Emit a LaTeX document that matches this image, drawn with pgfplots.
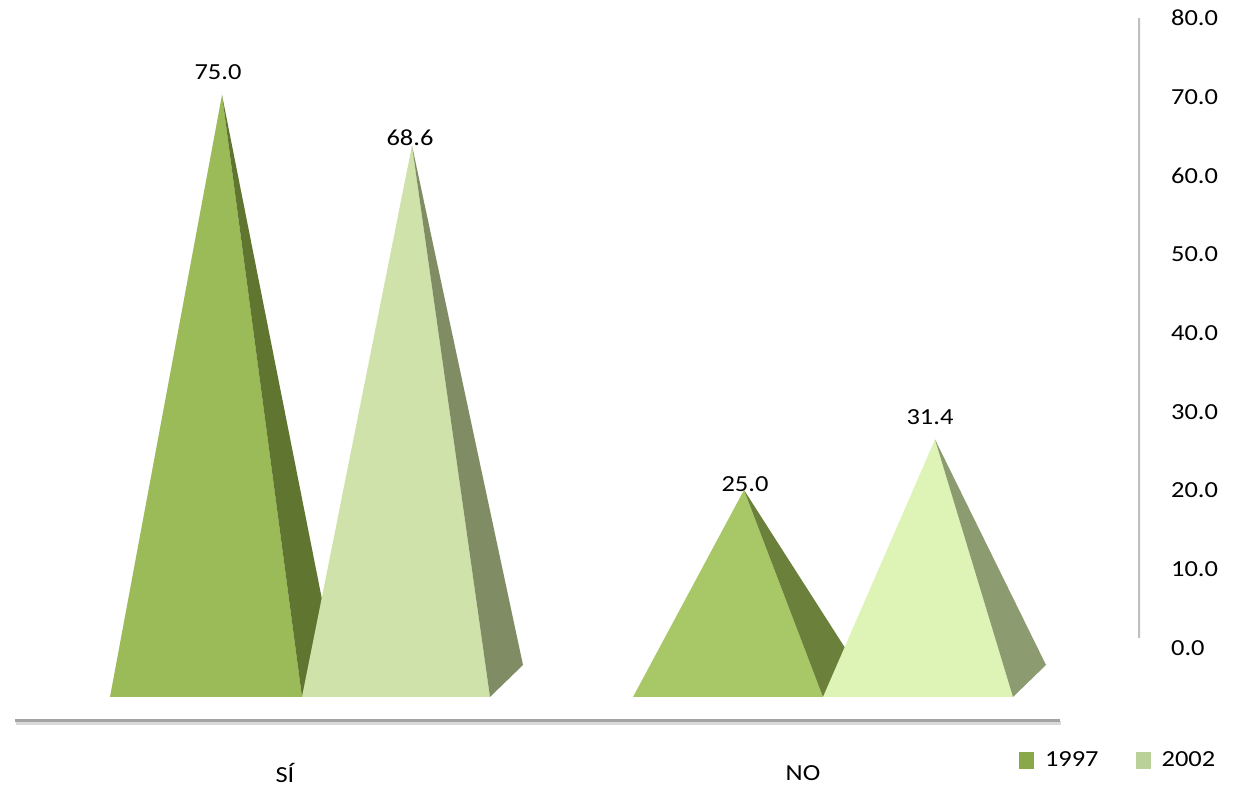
\documentclass[border=0pt]{standalone}
\usepackage{pgfplots}
\pgfplotsset{compat=1.18}
\usepackage{fontspec}
\setmainfont{Carlito}[FakeStretch=1.15]
\definecolor{siA}{HTML}{9BBB59}
\definecolor{siAs}{HTML}{5F7530}
\definecolor{siB}{HTML}{CFE2AA}
\definecolor{siBs}{HTML}{808C64}
\definecolor{noA}{HTML}{A8C868}
\definecolor{noAs}{HTML}{6B803A}
\definecolor{noB}{HTML}{DEF4B6}
\definecolor{noBs}{HTML}{8C9C70}
\definecolor{legA}{HTML}{88A84A}
\definecolor{legB}{HTML}{BBD19A}
\begin{document}
\begin{tikzpicture}[font=\fontsize{11.5}{13}\selectfont]
% right value axis
\begin{axis}[
  at={(0pt,69.5pt)}, anchor=south west,
  scale only axis, width=570pt, height=315pt,
  xmin=0, xmax=1, ymin=0, ymax=80,
  axis x line=none, axis y line*=right,
  axis line style={draw=none},
  ytick={0,10,...,80}, major tick length=0pt,
  yticklabel style={xshift=12pt, anchor=west},
  /pgf/number format/.cd, fixed, zerofill, precision=1, assume math mode=true,
]
\draw[color=black!25, line width=2pt] (rel axis cs:1,0.0159) -- (rel axis cs:1,1.0048);
\end{axis}
% pyramids (x in pixels, y in values)
\begin{axis}[
  at={(0pt,0pt)}, anchor=south west,
  scale only axis, width=619pt, height=393.5pt,
  xmin=0, xmax=1238, ymin=-12.595, ymax=87.025,
  axis lines=none, clip=false,
  legend columns=2,
  legend image code/.code={\fill[#1] (0pt,-4.25pt) rectangle (7.5pt,4.25pt);},
  legend style={at={(axis cs:1019,-9.24)}, anchor=west, draw=none, fill=none,
    inner sep=0pt, outer sep=0pt,
    nodes={inner xsep=5.5pt, inner ysep=1pt},
    /tikz/every even column/.append style={column sep=13pt},
    font=\fontsize{11.5}{13}\selectfont},
]
\path (rel axis cs:0,0) rectangle (rel axis cs:1,1);
% axis floor line with shadow
\draw[color=black!15, line width=2pt] (axis cs:16,-4.5) -- (axis cs:1061,-4.5);
\draw[color=black!36, line width=1.5pt] (axis cs:15,-4.24) -- (axis cs:1060,-4.24);
% SI 1997
\addplot[fill=siA, draw=none, forget plot] coordinates {(110,-1.2) (222,75) (302,-1.2)} -- cycle;
\addplot[fill=siAs, draw=none, forget plot] coordinates {(222,75) (302,-1.2) (335,2.85)} -- cycle;
% SI 2002
\addplot[fill=siB, draw=none, forget plot] coordinates {(302,-1.2) (412,68.6) (490,-1.2)} -- cycle;
\addplot[fill=siBs, draw=none, forget plot] coordinates {(412,68.6) (490,-1.2) (523,2.85)} -- cycle;
% NO 1997
\addplot[fill=noA, draw=none, forget plot] coordinates {(633,-1.2) (744,25) (823,-1.2)} -- cycle;
\addplot[fill=noAs, draw=none, forget plot] coordinates {(744,25) (823,-1.2) (856,2.85)} -- cycle;
% NO 2002
\addplot[fill=noB, draw=none, forget plot] coordinates {(823,-1.2) (935,31.4) (1013,-1.2)} -- cycle;
\addplot[fill=noBs, draw=none, forget plot] coordinates {(935,31.4) (1013,-1.2) (1046,2.85)} -- cycle;
% value labels
\addplot[only marks, mark=none, forget plot, point meta=explicit symbolic,
  nodes near coords, nodes near coords style={anchor=center, inner sep=0pt}]
  coordinates {(218,77.9)[75.0] (410,69.6)[68.6] (745,25.8)[25.0] (930,34.2)[31.4]};
% category labels
\node at (axis cs:285,-10.82) {SÍ};
\node at (axis cs:803,-10.82) {NO};
% legend
\addlegendimage{fill=legA, draw=none}
\addlegendentry{1997}
\addlegendimage{fill=legB, draw=none}
\addlegendentry{2002}
\end{axis}
\end{tikzpicture}
\end{document}
